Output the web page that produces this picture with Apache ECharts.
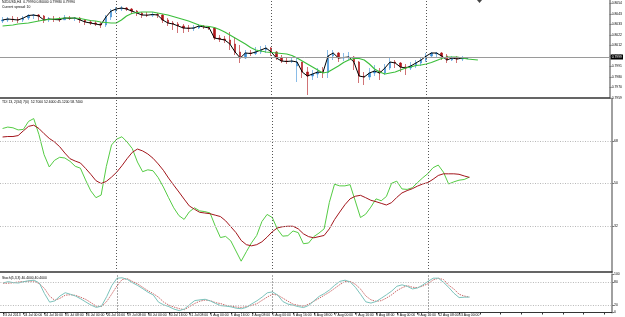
<!DOCTYPE html>
<html>
<head>
<meta charset="utf-8">
<script src="https://cdn.jsdelivr.net/npm/echarts@6/dist/echarts.min.js"></script>
<style>
  html, body { margin: 0; padding: 0; background: #fff; }
  #chart { width: 625px; height: 317px; }
</style>
</head>
<body>
<div id="chart"></div>
<script>
// H4 bars, 23 Jul 2013 08:00 .. 13 Aug 2013 08:00, plus empty chart-shift slots
const slotCount = 118
const weekStarts = [22, 52, 82]
const tickLabels = ['23 Jul 2013', '24 Jul 00:00', '24 Jul 16:00', '25 Jul 08:00', '26 Jul 00:00', '26 Jul 16:00',
  '29 Jul 08:00', '30 Jul 00:00', '30 Jul 16:00', '31 Jul 08:00', '1 Aug 00:00', '1 Aug 16:00', '2 Aug 08:00',
  '5 Aug 00:00', '5 Aug 16:00', '6 Aug 08:00', '7 Aug 00:00', '7 Aug 16:00', '8 Aug 08:00', '9 Aug 00:00',
  '9 Aug 16:00', '12 Aug 08:00', '13 Aug 00:00']

const barOpen = [0.8036, 0.8037, 0.8038, 0.80375, 0.8037, 0.8039, 0.80415, 0.8042, 0.8041, 0.8037,
  0.8038, 0.80375, 0.80372, 0.8039, 0.80387, 0.8039, 0.8037, 0.8035, 0.8034, 0.8033,
  0.8032, 0.8040, 0.8046, 0.8048, 0.8049, 0.8048, 0.8046, 0.8044, 0.8042, 0.80418,
  0.80425, 0.8042, 0.8037, 0.8034, 0.8033, 0.8031, 0.8029, 0.80287, 0.8029, 0.8031,
  0.8030, 0.8029, 0.8019, 0.8018, 0.8017, 0.8013, 0.8005, 0.7999, 0.8004, 0.80035,
  0.8005, 0.8007, 0.8009, 0.8005, 0.7999, 0.7996, 0.79955, 0.7991, 0.7995, 0.7985,
  0.7981, 0.7983, 0.7985, 0.79845, 0.8001, 0.8004, 0.7999, 0.79995, 0.8000, 0.7995,
  0.7981, 0.7980, 0.7984, 0.7986, 0.7984, 0.7989, 0.7995, 0.7994, 0.7990, 0.7989,
  0.7991, 0.7994, 0.7997, 0.8001, 0.8003, 0.8004, 0.8001, 0.7997, 0.7999, 0.7998,
  0.7999]
const barHigh = [0.8040, 0.8040, 0.8041, 0.8040, 0.8041, 0.8043, 0.8043, 0.8043, 0.8042, 0.8040,
  0.8041, 0.8040, 0.8042, 0.8041, 0.8040, 0.8040, 0.8038, 0.8037, 0.8036, 0.8035,
  0.8042, 0.8048, 0.8050, 0.8051, 0.8050, 0.8049, 0.8047, 0.8045, 0.8045, 0.8045,
  0.8044, 0.8043, 0.8039, 0.8036, 0.8035, 0.8033, 0.8032, 0.8032, 0.8033, 0.8032,
  0.8031, 0.8030, 0.8022, 0.8021, 0.8025, 0.8020, 0.8012, 0.8007, 0.8007, 0.8010,
  0.8011, 0.8012, 0.8010, 0.8006, 0.8002, 0.8000, 0.8000, 0.7999, 0.7995, 0.7990,
  0.7987, 0.7989, 0.7990, 0.8007, 0.8007, 0.8005, 0.8004, 0.8005, 0.8001, 0.7996,
  0.7985, 0.7989, 0.7992, 0.7989, 0.7993, 0.7999, 0.7997, 0.7995, 0.7993, 0.7995,
  0.7997, 0.8000, 0.8004, 0.8005, 0.8005, 0.8005, 0.8003, 0.8001, 0.8001, 0.8001,
  0.8000]
const barLow = [0.8034, 0.8035, 0.8035, 0.8034, 0.8035, 0.8037, 0.8038, 0.8036, 0.8034, 0.8035,
  0.8035, 0.8035, 0.8037, 0.8037, 0.8036, 0.8034, 0.8032, 0.8032, 0.8031, 0.8029,
  0.8030, 0.8037, 0.8044, 0.8046, 0.8046, 0.8043, 0.8041, 0.8039, 0.8040, 0.8040,
  0.8039, 0.8034, 0.8031, 0.8027, 0.8024, 0.8024, 0.8025, 0.8026, 0.8028, 0.8028,
  0.8027, 0.8017, 0.8015, 0.8014, 0.8007, 0.8002, 0.7994, 0.7998, 0.8001, 0.8002,
  0.8003, 0.8004, 0.8001, 0.7997, 0.7994, 0.7993, 0.7994, 0.7975, 0.7979, 0.7962,
  0.7977, 0.7979, 0.7979, 0.7979, 0.7997, 0.7995, 0.7996, 0.7997, 0.7987, 0.7974,
  0.7972, 0.7977, 0.7981, 0.7977, 0.7982, 0.7987, 0.7989, 0.7985, 0.7982, 0.7987,
  0.7989, 0.7991, 0.7995, 0.7999, 0.8000, 0.7997, 0.7994, 0.7996, 0.7994, 0.7996,
  0.7998]
const barClose = [0.8037, 0.8038, 0.80375, 0.8037, 0.8039, 0.80415, 0.8042, 0.8041, 0.8037, 0.8038,
  0.80375, 0.80372, 0.8039, 0.80387, 0.8039, 0.8037, 0.8035, 0.8034, 0.8033, 0.8032,
  0.8040, 0.8046, 0.8048, 0.8049, 0.8048, 0.8046, 0.8044, 0.8042, 0.80418, 0.80425,
  0.8042, 0.8037, 0.8034, 0.8033, 0.8031, 0.8029, 0.80287, 0.8029, 0.8031, 0.8030,
  0.8029, 0.8019, 0.8018, 0.8017, 0.8013, 0.8005, 0.7999, 0.8004, 0.80035, 0.8005,
  0.8007, 0.8009, 0.8005, 0.7999, 0.7996, 0.79955, 0.7996, 0.7995, 0.7985, 0.7981,
  0.7983, 0.7985, 0.79845, 0.8001, 0.8004, 0.7999, 0.79995, 0.8000, 0.7995, 0.7981,
  0.7980, 0.7984, 0.7986, 0.7984, 0.7989, 0.7995, 0.7994, 0.7990, 0.7989, 0.7991,
  0.7994, 0.7997, 0.8001, 0.8004, 0.8004, 0.8001, 0.7997, 0.7999, 0.7998, 0.7999,
  0.7999]
// shifted moving average, runs 2 bars past the last candle
const maGreen = [0.8031, 0.80315, 0.8032, 0.8033, 0.80335, 0.8034, 0.8035, 0.8036, 0.8037, 0.80375,
  0.8038, 0.80385, 0.8039, 0.8039, 0.8039, 0.80385, 0.80375, 0.80365, 0.8036, 0.8035,
  0.80345, 0.8034, 0.8034, 0.8037, 0.8041, 0.80435, 0.80445, 0.8045, 0.8045, 0.8045,
  0.8044, 0.8043, 0.8042, 0.80405, 0.8039, 0.80375, 0.8036, 0.8034, 0.8032, 0.8031,
  0.80305, 0.80295, 0.80275, 0.8025, 0.8022, 0.8019, 0.8016, 0.8013, 0.80095, 0.8007,
  0.8006, 0.8005, 0.80045, 0.8004, 0.80035, 0.8003, 0.80015, 0.7999, 0.7996, 0.7993,
  0.7990, 0.7987, 0.7984, 0.7985, 0.7988, 0.7991, 0.79945, 0.7997, 0.79985, 0.79985,
  0.7997, 0.7993, 0.7988, 0.7985, 0.7983, 0.7984, 0.7985, 0.7987, 0.7989, 0.7990,
  0.79915, 0.7992, 0.7993, 0.79945, 0.79965, 0.79985, 0.8000, 0.8000, 0.8000, 0.7999,
  0.7998, 0.79975, 0.7997]
const lastPrice = 0.7999

const tdiRsi = [73.3, 73.9, 73.6, 72.7, 72.9, 76.3, 77.5, 70.8, 62.2, 57.0,
  59.8, 61.1, 60.8, 59.4, 57.3, 56.5, 51.5, 46.9, 44.0, 45.1,
  57.2, 66.3, 68.8, 69.8, 67.6, 64.8, 59.1, 55.0, 55.8, 55.4,
  52.5, 48.5, 44.0, 39.7, 36.4, 34.8, 38.0, 39.7, 38.4, 38.1,
  37.5, 32.0, 27.1, 27.6, 25.7, 21.4, 17.1, 21.1, 24.9, 28.0,
  33.9, 36.9, 35.6, 30.6, 27.7, 27.9, 29.9, 29.2, 24.5, 24.8,
  27.5, 29.0, 30.8, 42.0, 49.7, 49.0, 49.0, 49.5, 42.6, 35.6,
  37.0, 40.0, 43.5, 42.7, 44.5, 50.1, 51.0, 47.7, 47.5, 48.2,
  50.4, 52.4, 54.2, 56.7, 57.8, 54.8, 49.8, 50.7, 51.4, 51.7,
  52.7]
const tdiSignal = [69.7, 69.9, 69.9, 70.3, 72.3, 74.2, 74.7, 73.3, 71.1, 69.1,
  67.6, 65.6, 62.9, 60.5, 59.5, 58.7, 56.4, 53.9, 51.2, 50.0,
  50.9, 52.7, 54.8, 57.5, 60.5, 63.2, 64.6, 63.8, 62.5, 60.7,
  58.3, 55.6, 52.3, 49.3, 46.4, 43.4, 40.5, 39.1, 37.8, 37.5,
  37.2, 36.6, 36.0, 34.2, 31.7, 29.2, 25.9, 24.1, 23.6, 24.1,
  25.3, 27.3, 29.6, 31.2, 31.7, 31.9, 31.9, 30.8, 28.7, 27.5,
  27.0, 27.5, 28.0, 30.8, 34.7, 37.9, 41.0, 43.5, 44.6, 45.0,
  44.0, 42.9, 42.3, 41.6, 40.9, 41.9, 44.1, 46.0, 47.0, 47.8,
  48.9, 49.8, 50.4, 51.8, 53.4, 54.1, 54.1, 54.1, 53.9, 53.2,
  52.6]
const tdiLevels = [32, 50, 68]

const stochMain = [77.3, 80.7, 78.1, 77.3, 80.7, 83.1, 84.6, 77.3, 49.7, 27.1,
  30.5, 43.2, 51.8, 47.7, 43.0, 35.7, 27.3, 19.3, 13.3, 16.7,
  41.4, 70.6, 89.8, 90.9, 86.5, 77.9, 70.6, 62.0, 52.9, 45.8,
  27.1, 20.1, 15.4, 8.9, 4.9, 9.1, 20.6, 31.2, 33.1, 34.6,
  30.2, 23.7, 18.0, 16.7, 14.8, 11.2, 9.9, 13.5, 22.7, 30.7,
  40.4, 51.6, 53.9, 45.6, 28.6, 21.9, 19.0, 15.4, 13.0, 18.7,
  30.5, 42.2, 49.7, 59.1, 71.3, 81.5, 84.6, 79.9, 65.9, 47.4,
  27.9, 24.7, 28.9, 37.5, 46.6, 56.2, 68.7, 72.4, 68.5, 61.7,
  64.3, 72.1, 81.5, 89.8, 89.8, 78.9, 65.6, 50.5, 39.1, 40.1,
  40.4]
const stochSignal = [76.6, 76.6, 77.9, 80.2, 81.0, 82.0, 82.0, 75.5, 63.0, 42.7,
  31.8, 37.2, 45.3, 46.6, 44.8, 39.8, 34.1, 25.5, 16.4, 15.6,
  28.6, 48.7, 70.0, 86.5, 88.5, 81.2, 74.7, 65.6, 56.8, 49.2,
  40.1, 27.3, 19.3, 14.1, 10.2, 7.3, 15.6, 23.7, 29.7, 32.6,
  31.0, 25.8, 23.4, 18.7, 16.7, 14.3, 13.3, 15.4, 18.7, 23.2,
  32.0, 40.6, 47.7, 45.6, 37.5, 29.4, 21.6, 18.7, 16.4, 21.9,
  29.4, 37.2, 45.3, 53.4, 63.3, 73.2, 81.2, 81.2, 73.7, 61.2,
  43.2, 33.1, 29.2, 31.0, 38.0, 46.4, 57.3, 64.8, 70.3, 66.1,
  65.1, 69.3, 75.3, 85.4, 89.6, 86.2, 71.3, 61.5, 47.7, 43.0,
  40.4]
const stochLevels = [20, 80]

const FONT = 'Liberation Sans'
const FS = 3.4
const categories = Array.from({ length: slotCount }, (_, i) => String(i))
const candles = barOpen.map((o, i) => [o, barClose[i], barLow[i], barHigh[i]])

const weekLines = {
  silent: true,
  symbol: ['none', 'none'],
  label: { show: false },
  lineStyle: { color: '#555', type: [1, 2], width: 1 },
  data: weekStarts.map((i) => ({ xAxis: i })),
}

function levelLines(levels) {
  return {
    silent: true,
    symbol: ['none', 'none'],
    label: { show: false },
    lineStyle: { color: '#b8b8b8', type: [1, 1.5], width: 1 },
    data: levels.map((v) => ({ yAxis: v })),
  }
}

function xAxisFor(g) {
  const bottom = g === 2
  return {
    type: 'category',
    gridIndex: g,
    data: categories,
    boundaryGap: true,
    axisLine: { show: true, lineStyle: { color: '#333', width: bottom ? 1 : 1.5 } },
    axisTick: bottom
      ? { show: true, interval: 3, alignWithLabel: true, length: 2, lineStyle: { color: '#333' } }
      : { show: false },
    axisLabel: bottom
      ? {
          show: true, interval: 3, align: 'left', margin: 1.5, hideOverlap: false, showMinLabel: true,
          fontSize: FS, fontFamily: FONT, color: '#000',
          formatter: (v, i) => tickLabels[i / 4] || '',
        }
      : { show: false },
    splitLine: { show: false },
  }
}

const yCommon = {
  type: 'value',
  position: 'right',
  axisLine: { show: true, lineStyle: { color: '#a0a0a0', width: 2 } },
  axisTick: { show: true, length: 2, lineStyle: { color: '#777' } },
  splitLine: { show: false },
}

const chart = echarts.init(document.getElementById('chart'))

chart.setOption({
  animation: false,
  backgroundColor: '#fff',
  grid: [
    { left: 0, right: 13, top: 0, height: 98 },
    { left: 0, right: 13, top: 99, height: 173 },
    { left: 0, right: 13, top: 274.3, height: 38.4 },
  ],
  xAxis: [xAxisFor(0), xAxisFor(1), xAxisFor(2)],
  yAxis: [
    {
      ...yCommon, gridIndex: 0, min: 0.7959, max: 0.8057, interval: 0.00105,
      axisLabel: { fontSize: FS, fontFamily: FONT, color: '#000', margin: 2, showMaxLabel: false,
        formatter: (v) => v.toFixed(4) },
    },
    {
      ...yCommon, gridIndex: 1, min: 12.52, max: 85.79,
      axisTick: { ...yCommon.axisTick, customValues: tdiLevels },
      axisLabel: { fontSize: FS, fontFamily: FONT, color: '#000', margin: 2, customValues: tdiLevels },
    },
    {
      ...yCommon, gridIndex: 2, min: 0, max: 100,
      axisTick: { ...yCommon.axisTick, customValues: [0, 20, 80, 100] },
      axisLabel: { fontSize: FS, fontFamily: FONT, color: '#000', margin: 2, customValues: [0, 20, 80, 100] },
    },
  ],
  series: [
    {
      name: 'bars',
      type: 'candlestick',
      xAxisIndex: 0,
      yAxisIndex: 0,
      barWidth: 2,
      itemStyle: {
        color: '#3a8ed6', color0: '#b0141a',
        borderColor: '#3a8ed6', borderColor0: '#b0141a', borderWidth: 0.6,
      },
      data: candles,
    },
    {
      name: 'close',
      type: 'line',
      xAxisIndex: 0,
      yAxisIndex: 0,
      showSymbol: false,
      lineStyle: { color: '#000', width: 1 },
      data: barClose,
      markLine: weekLines,
    },
    {
      name: 'ma',
      type: 'line',
      xAxisIndex: 0,
      yAxisIndex: 0,
      showSymbol: false,
      lineStyle: { color: '#3cbf3c', width: 1.2 },
      data: maGreen,
      markLine: {
        silent: true,
        symbol: ['none', 'none'],
        lineStyle: { color: '#9a9a9a', type: 'solid', width: 1 },
        label: {
          show: true, position: 'end', distance: 1,
          formatter: () => lastPrice.toFixed(4),
          backgroundColor: '#000', color: '#fff', fontSize: FS, fontFamily: FONT, padding: [1, 1],
        },
        data: [{ yAxis: lastPrice }],
      },
    },
    {
      name: 'tdi signal',
      type: 'line',
      xAxisIndex: 1,
      yAxisIndex: 1,
      showSymbol: false,
      lineStyle: { color: '#a3161c', width: 1 },
      data: tdiSignal,
      markLine: levelLines(tdiLevels),
      z: 3,
    },
    {
      name: 'tdi rsi',
      type: 'line',
      xAxisIndex: 1,
      yAxisIndex: 1,
      showSymbol: false,
      lineStyle: { color: '#55cc44', width: 1 },
      data: tdiRsi,
      markLine: weekLines,
      z: 2,
    },
    {
      name: 'stoch signal',
      type: 'line',
      xAxisIndex: 2,
      yAxisIndex: 2,
      showSymbol: false,
      lineStyle: { color: '#cc6a6a', width: 1, type: [1.5, 1] },
      data: stochSignal,
      markLine: levelLines(stochLevels),
    },
    {
      name: 'stoch main',
      type: 'line',
      xAxisIndex: 2,
      yAxisIndex: 2,
      showSymbol: false,
      lineStyle: { color: '#7cc3bc', width: 1 },
      data: stochMain,
      markLine: weekLines,
    },
  ],
  graphic: [
    { type: 'text', left: 2, top: 1, silent: true,
      style: { text: 'NZDUSD,H4  0.79990 0.80000 0.79980 0.79990', fontSize: FS, fontFamily: FONT, fill: '#000' } },
    { type: 'text', left: 2, top: 5.5, silent: true,
      style: { text: 'Current spread: 10', fontSize: FS, fontFamily: FONT, fill: '#000' } },
    { type: 'text', left: 2, top: 101, silent: true,
      style: { text: 'TDI 13, 2(34) 7(0)  52.7000 52.6000 45.1200 58.7400', fontSize: FS, fontFamily: FONT, fill: '#000' } },
    { type: 'text', left: 2, top: 276.5, silent: true,
      style: { text: 'Stoch(5,3,3) 40.4000 40.4000', fontSize: FS, fontFamily: FONT, fill: '#000' } },
    { type: 'polygon', silent: true,
      shape: { points: [[477, 0], [482, 0], [479.5, 3]] }, style: { fill: '#444' } },
  ],
})

window.addEventListener('resize', () => chart.resize())
</script>
</body>
</html>
